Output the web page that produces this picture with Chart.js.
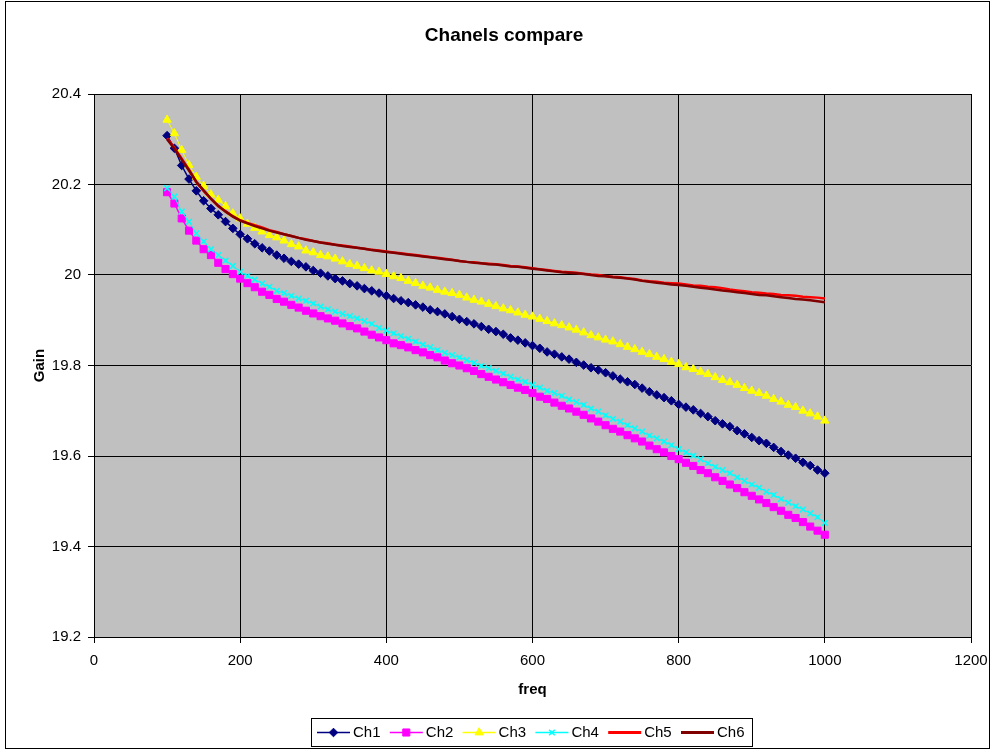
<!DOCTYPE html>
<html><head><meta charset="utf-8">
<script src="https://cdn.jsdelivr.net/npm/chart.js@4.4.0/dist/chart.umd.min.js"></script>
<style>html,body{margin:0;padding:0;background:#fff;overflow:hidden}canvas{display:block}</style>
</head><body>
<canvas id="c" width="993" height="750"></canvas>
<script>
const chartTitle = 'Chanels compare';
const xAxisTitle = 'freq';
const yAxisTitle = 'Gain';
const seriesNames = ['Ch1', 'Ch2', 'Ch3', 'Ch4', 'Ch5', 'Ch6'];
const xMin = 0, xMax = 1200, xStep = 200;
const yMin = 19.2, yMax = 20.4, yStep = 0.2;

const freq = [100,110,120,130,140,150,160,170,180,190,200,210,220,230,240,250,260,270,280,290,
300,310,320,330,340,350,360,370,380,390,400,410,420,430,440,450,460,470,480,490,
500,510,520,530,540,550,560,570,580,590,600,610,620,630,640,650,660,670,680,690,
700,710,720,730,740,750,760,770,780,790,800,810,820,830,840,850,860,870,880,890,
900,910,920,930,940,950,960,970,980,990,1000];

const ch1 = [20.308,20.280,20.242,20.212,20.186,20.164,20.147,20.133,20.118,20.103,
20.090,20.080,20.069,20.060,20.053,20.044,20.037,20.030,20.024,20.018,
20.010,20.004,19.998,19.992,19.987,19.981,19.976,19.970,19.965,19.960,
19.954,19.948,19.943,19.939,19.934,19.929,19.923,19.919,19.914,19.908,
19.902,19.897,19.892,19.886,19.880,19.875,19.869,19.861,19.856,19.850,
19.844,19.838,19.830,19.825,19.819,19.814,19.807,19.801,19.795,19.790,
19.784,19.777,19.770,19.764,19.758,19.750,19.742,19.735,19.729,19.722,
19.714,19.708,19.702,19.694,19.687,19.678,19.671,19.665,19.656,19.649,
19.641,19.634,19.628,19.619,19.610,19.602,19.595,19.586,19.579,19.569,
19.562];

const ch2 = [20.183,20.158,20.125,20.098,20.076,20.057,20.044,20.027,20.013,20.002,
19.992,19.982,19.973,19.963,19.956,19.947,19.941,19.934,19.928,19.921,
19.915,19.909,19.904,19.899,19.893,19.887,19.882,19.875,19.868,19.862,
19.856,19.849,19.845,19.840,19.834,19.829,19.823,19.818,19.811,19.805,
19.800,19.794,19.788,19.781,19.775,19.769,19.763,19.757,19.751,19.746,
19.739,19.731,19.726,19.718,19.711,19.705,19.698,19.691,19.683,19.676,
19.668,19.660,19.654,19.646,19.639,19.632,19.623,19.615,19.608,19.600,
19.593,19.585,19.578,19.569,19.562,19.553,19.545,19.537,19.529,19.520,
19.512,19.504,19.496,19.487,19.479,19.470,19.463,19.454,19.444,19.435,
19.426];

const ch3 = [20.343,20.313,20.276,20.243,20.217,20.197,20.178,20.166,20.152,20.136,
20.125,20.113,20.104,20.096,20.088,20.083,20.076,20.068,20.063,20.054,
20.050,20.044,20.041,20.036,20.030,20.024,20.020,20.015,20.010,20.007,
20.002,19.997,19.993,19.987,19.982,19.976,19.972,19.967,19.963,19.960,
19.956,19.950,19.945,19.941,19.936,19.931,19.926,19.922,19.917,19.912,
19.908,19.903,19.898,19.893,19.889,19.884,19.879,19.873,19.867,19.862,
19.857,19.853,19.847,19.841,19.836,19.830,19.825,19.819,19.814,19.808,
19.803,19.796,19.792,19.786,19.781,19.774,19.768,19.763,19.757,19.750,
19.744,19.739,19.733,19.726,19.720,19.713,19.708,19.700,19.694,19.687,
19.678];

const ch4 = [20.192,20.173,20.140,20.118,20.092,20.074,20.057,20.044,20.032,20.020,
20.007,19.998,19.990,19.981,19.974,19.965,19.960,19.954,19.948,19.943,
19.937,19.930,19.924,19.919,19.914,19.909,19.904,19.898,19.892,19.883,
19.877,19.871,19.865,19.859,19.853,19.846,19.840,19.834,19.828,19.823,
19.818,19.812,19.806,19.799,19.794,19.788,19.782,19.775,19.769,19.764,
19.757,19.751,19.744,19.739,19.733,19.725,19.719,19.713,19.705,19.698,
19.690,19.682,19.676,19.668,19.661,19.654,19.645,19.639,19.632,19.624,
19.615,19.608,19.601,19.593,19.584,19.576,19.569,19.562,19.553,19.545,
19.537,19.530,19.521,19.514,19.505,19.497,19.489,19.482,19.473,19.465,
19.452];

const ch5 = [20.302,20.281,20.257,20.233,20.205,20.186,20.168,20.152,20.141,20.130,
20.121,20.115,20.110,20.105,20.099,20.095,20.090,20.086,20.082,20.079,
20.075,20.072,20.070,20.067,20.065,20.063,20.060,20.058,20.056,20.054,
20.052,20.050,20.048,20.046,20.044,20.042,20.040,20.038,20.036,20.034,
20.031,20.029,20.028,20.026,20.025,20.024,20.022,20.020,20.019,20.017,
20.015,20.013,20.011,20.009,20.007,20.006,20.005,20.003,20.001,20.000,
19.998,19.996,19.995,19.993,19.991,19.988,19.986,19.985,19.983,19.982,
19.981,19.979,19.977,19.976,19.974,19.973,19.971,19.968,19.966,19.964,
19.962,19.961,19.959,19.958,19.956,19.955,19.954,19.952,19.951,19.950,
19.948];

const ch6 = [20.300,20.279,20.255,20.231,20.206,20.187,20.169,20.153,20.140,20.129,
20.120,20.114,20.108,20.103,20.098,20.094,20.090,20.086,20.082,20.078,
20.075,20.072,20.069,20.067,20.064,20.062,20.060,20.058,20.055,20.053,
20.051,20.049,20.047,20.045,20.043,20.041,20.039,20.037,20.035,20.033,
20.031,20.029,20.027,20.026,20.024,20.023,20.021,20.019,20.018,20.016,
20.014,20.012,20.010,20.008,20.006,20.005,20.004,20.002,20.000,19.998,
19.997,19.995,19.994,19.992,19.990,19.987,19.985,19.983,19.981,19.979,
19.978,19.976,19.974,19.972,19.970,19.968,19.966,19.964,19.962,19.960,
19.958,19.956,19.955,19.953,19.951,19.949,19.947,19.946,19.944,19.942,
19.940];

const seriesValues = [ch1, ch2, ch3, ch4, ch5, ch6];

const FONT = '"Liberation Sans", Arial, Helvetica, sans-serif';
const styles = [
  {color: '#000080', pointStyle: 'rectRot', radius: 4.3, lineWidth: 1.5, pbw: 1},
  {color: '#FF00FF', pointStyle: 'rect', radius: 5, lineWidth: 1.5, pbw: 1},
  {color: '#FFFF00', pointStyle: 'triangle', radius: 4.8, lineWidth: 1, pbw: 1},
  {color: '#00FFFF', pointStyle: 'crossRot', radius: 4, lineWidth: 1, pbw: 1.5},
  {color: '#FF0000', pointStyle: false, radius: 0, lineWidth: 2.5, pbw: 0},
  {color: '#800000', pointStyle: false, radius: 0, lineWidth: 2.5, pbw: 0}
];

const datasets = seriesNames.map((name, i) => ({
  label: name,
  data: freq.map((f, j) => ({x: f, y: seriesValues[i][j]})),
  borderColor: styles[i].color,
  backgroundColor: styles[i].color,
  borderWidth: styles[i].lineWidth,
  pointStyle: styles[i].pointStyle,
  pointRadius: styles[i].radius,
  pointBorderWidth: styles[i].pbw,
  pointBackgroundColor: styles[i].color,
  pointBorderColor: styles[i].color,
  tension: 0,
  fill: false,
  order: seriesNames.length - i
}));

function drawMarker(ctx, style, x, y) {
  const r = style.radius;
  ctx.save();
  ctx.fillStyle = style.color;
  ctx.strokeStyle = style.color;
  ctx.lineWidth = style.pbw;
  ctx.beginPath();
  if (style.pointStyle === 'rectRot') {
    ctx.moveTo(x, y - r); ctx.lineTo(x + r, y); ctx.lineTo(x, y + r); ctx.lineTo(x - r, y); ctx.closePath();
    ctx.fill(); ctx.stroke();
  } else if (style.pointStyle === 'rect') {
    const s = r * Math.SQRT1_2;
    ctx.rect(x - s, y - s, 2 * s, 2 * s); ctx.fill(); ctx.stroke();
  } else if (style.pointStyle === 'triangle') {
    ctx.moveTo(x, y - r);
    ctx.lineTo(x + r * Math.sin(Math.PI * 2 / 3), y - r * Math.cos(Math.PI * 2 / 3));
    ctx.lineTo(x - r * Math.sin(Math.PI * 2 / 3), y - r * Math.cos(Math.PI * 2 / 3));
    ctx.closePath(); ctx.fill(); ctx.stroke();
  } else if (style.pointStyle === 'crossRot') {
    const s = r * Math.SQRT1_2;
    ctx.moveTo(x - s, y - s); ctx.lineTo(x + s, y + s);
    ctx.moveTo(x - s, y + s); ctx.lineTo(x + s, y - s);
    ctx.stroke();
  }
  ctx.restore();
}

const decorPlugin = {
  id: 'decor',
  beforeDraw(chart) {
    const {ctx, chartArea: a} = chart;
    ctx.save();
    ctx.fillStyle = '#FFFFFF';
    ctx.fillRect(0, 0, chart.width, chart.height);
    ctx.fillStyle = '#C0C0C0';
    ctx.fillRect(a.left, a.top, a.right - a.left, a.bottom - a.top);
    ctx.restore();
  },
  afterDraw(chart) {
    const {ctx, chartArea: a} = chart;
    ctx.save();
    ctx.fillStyle = '#000';
    ctx.textAlign = 'center';
    ctx.textBaseline = 'middle';
    ctx.font = 'bold 19px ' + FONT;
    ctx.fillText(chartTitle, 504, 36);
    ctx.font = 'bold 15px ' + FONT;
    ctx.fillText(xAxisTitle, (a.left + a.right) / 2, 690);
    ctx.save();
    ctx.translate(40, (a.top + a.bottom) / 2);
    ctx.rotate(-Math.PI / 2);
    ctx.fillText(yAxisTitle, 0, 0);
    ctx.restore();

    // legend
    const boxL = 311, boxT = 718, boxW = 441, boxH = 28;
    ctx.strokeStyle = '#000';
    ctx.lineWidth = 1;
    ctx.strokeRect(boxL + 0.5, boxT + 0.5, boxW, boxH);
    const ly = boxT + boxH / 2 + 0.5;
    ctx.font = '15px ' + FONT;
    ctx.textAlign = 'left';
    seriesNames.forEach((name, i) => {
      const st = styles[i];
      const x0 = boxL + 6 + i * 72.8;
      ctx.save();
      ctx.strokeStyle = st.color;
      ctx.lineWidth = st.lineWidth < 2 ? 1.3 : 3;
      ctx.beginPath();
      ctx.moveTo(x0, ly); ctx.lineTo(x0 + 33, ly);
      ctx.stroke();
      ctx.restore();
      if (st.pointStyle) drawMarker(ctx, st, x0 + 16.5, ly);
      ctx.fillStyle = '#000';
      ctx.fillText(name, x0 + 36, ly);
    });

    // outer frame
    ctx.strokeStyle = '#000';
    ctx.lineWidth = 1;
    ctx.strokeRect(5.5, 1.5, 984, 747);
    ctx.restore();
  }
};

new Chart(document.getElementById('c'), {
  type: 'line',
  data: {datasets},
  plugins: [decorPlugin],
  options: {
    responsive: false,
    animation: false,
    devicePixelRatio: 1,
    events: [],
    layout: {padding: {left: 0, top: 94, right: 22, bottom: 0}},
    plugins: {legend: {display: false}, title: {display: false}, tooltip: {enabled: false}},
    scales: {
      x: {
        type: 'linear', min: xMin, max: xMax,
        afterFit(scale) { scale.height = 113; scale.paddingRight = 0; scale.paddingLeft = 0; },
        ticks: {stepSize: xStep, color: '#000', font: {family: FONT, size: 15}, padding: 9, maxRotation: 0,
          callback: (v) => String(v)},
        grid: {color: '#000', lineWidth: 1, tickLength: 6, drawTicks: true},
        border: {color: '#000', width: 1}
      },
      y: {
        type: 'linear', min: yMin, max: yMax,
        afterFit(scale) { scale.width = 94; scale.paddingTop = 0; scale.paddingBottom = 0; },
        ticks: {stepSize: yStep, color: '#000', font: {family: FONT, size: 15}, padding: 7,
          callback: (v) => String(Number(v.toFixed(1)))},
        grid: {color: '#000', lineWidth: 1, tickLength: 6, drawTicks: true},
        border: {color: '#000', width: 1}
      }
    }
  }
});
</script>
</body></html>
